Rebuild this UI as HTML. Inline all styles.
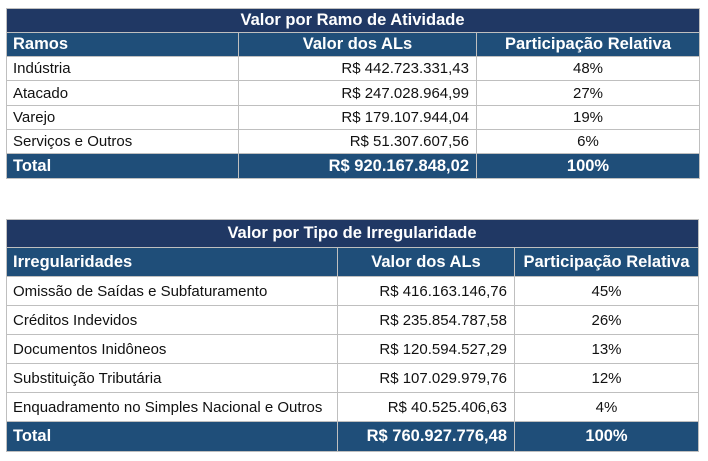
<!DOCTYPE html>
<html><head><meta charset="utf-8"><style>
body{margin:0;width:708px;height:461px;background:#fff;font-family:"Liberation Sans",Arial,sans-serif;position:relative;overflow:hidden}
.c{position:absolute;box-sizing:border-box;font-size:15px;color:#111;display:flex;align-items:center;white-space:nowrap;border-right:1px solid #bfbfbf;border-bottom:1px solid #bfbfbf}
.t{background:#203864;color:#fff;font-weight:bold;justify-content:center;font-size:16.5px;border-color:#bfbfbf}
.h{background:#1f4e79;color:#fff;font-weight:bold;font-size:16.5px}
.l{padding-left:7px}.r{justify-content:flex-end;padding-right:7px}.m{justify-content:center}
.frame{position:absolute;box-sizing:border-box;border:1px solid #bfbfbf;border-right:none;border-bottom:none;z-index:2}
</style></head><body>
<div class="frame" style="left:6px;top:8px;width:694px;height:171px"></div>
<div class="c t" style="left:6px;top:8px;width:694px;height:25px">Valor por Ramo de Atividade</div>
<div class="c h l" style="left:6px;top:33px;width:233px;height:24px">Ramos</div>
<div class="c h m" style="left:239px;top:33px;width:238px;height:24px">Valor dos ALs</div>
<div class="c h m" style="left:477px;top:33px;width:223px;height:24px">Participação Relativa</div>

<div class="c l" style="left:6px;top:57px;width:233px;height:24px">Indústria</div>
<div class="c r" style="left:239px;top:57px;width:238px;height:24px">R$ 442.723.331,43</div>
<div class="c m" style="left:477px;top:57px;width:223px;height:24px">48%</div>
<div class="c l" style="left:6px;top:81px;width:233px;height:25px">Atacado</div>
<div class="c r" style="left:239px;top:81px;width:238px;height:25px">R$ 247.028.964,99</div>
<div class="c m" style="left:477px;top:81px;width:223px;height:25px">27%</div>
<div class="c l" style="left:6px;top:106px;width:233px;height:24px">Varejo</div>
<div class="c r" style="left:239px;top:106px;width:238px;height:24px">R$ 179.107.944,04</div>
<div class="c m" style="left:477px;top:106px;width:223px;height:24px">19%</div>
<div class="c l" style="left:6px;top:130px;width:233px;height:24px">Serviços e Outros</div>
<div class="c r" style="left:239px;top:130px;width:238px;height:24px">R$ 51.307.607,56</div>
<div class="c m" style="left:477px;top:130px;width:223px;height:24px">6%</div>
<div class="c h l" style="left:6px;top:154px;width:233px;height:25px">Total</div>
<div class="c h r" style="left:239px;top:154px;width:238px;height:25px">R$ 920.167.848,02</div>
<div class="c h m" style="left:477px;top:154px;width:223px;height:25px">100%</div>

<div class="frame" style="left:6px;top:219px;width:693px;height:233px"></div>
<div class="c t" style="left:6px;top:219px;width:693px;height:29px">Valor por Tipo de Irregularidade</div>
<div class="c h l" style="left:6px;top:248px;width:332px;height:29px">Irregularidades</div>
<div class="c h m" style="left:338px;top:248px;width:177px;height:29px">Valor dos ALs</div>
<div class="c h m" style="left:515px;top:248px;width:184px;height:29px">Participação Relativa</div>

<div class="c l" style="left:6px;top:277px;width:332px;height:29px">Omissão de Saídas e Subfaturamento</div>
<div class="c r" style="left:338px;top:277px;width:177px;height:29px">R$ 416.163.146,76</div>
<div class="c m" style="left:515px;top:277px;width:184px;height:29px">45%</div>
<div class="c l" style="left:6px;top:306px;width:332px;height:29px">Créditos Indevidos</div>
<div class="c r" style="left:338px;top:306px;width:177px;height:29px">R$ 235.854.787,58</div>
<div class="c m" style="left:515px;top:306px;width:184px;height:29px">26%</div>
<div class="c l" style="left:6px;top:335px;width:332px;height:29px">Documentos Inidôneos</div>
<div class="c r" style="left:338px;top:335px;width:177px;height:29px">R$ 120.594.527,29</div>
<div class="c m" style="left:515px;top:335px;width:184px;height:29px">13%</div>
<div class="c l" style="left:6px;top:364px;width:332px;height:29px">Substituição Tributária</div>
<div class="c r" style="left:338px;top:364px;width:177px;height:29px">R$ 107.029.979,76</div>
<div class="c m" style="left:515px;top:364px;width:184px;height:29px">12%</div>
<div class="c l" style="left:6px;top:393px;width:332px;height:29px">Enquadramento no Simples Nacional e Outros</div>
<div class="c r" style="left:338px;top:393px;width:177px;height:29px">R$ 40.525.406,63</div>
<div class="c m" style="left:515px;top:393px;width:184px;height:29px">4%</div>
<div class="c h l" style="left:6px;top:422px;width:332px;height:30px">Total</div>
<div class="c h r" style="left:338px;top:422px;width:177px;height:30px">R$ 760.927.776,48</div>
<div class="c h m" style="left:515px;top:422px;width:184px;height:30px">100%</div>
</body></html>
